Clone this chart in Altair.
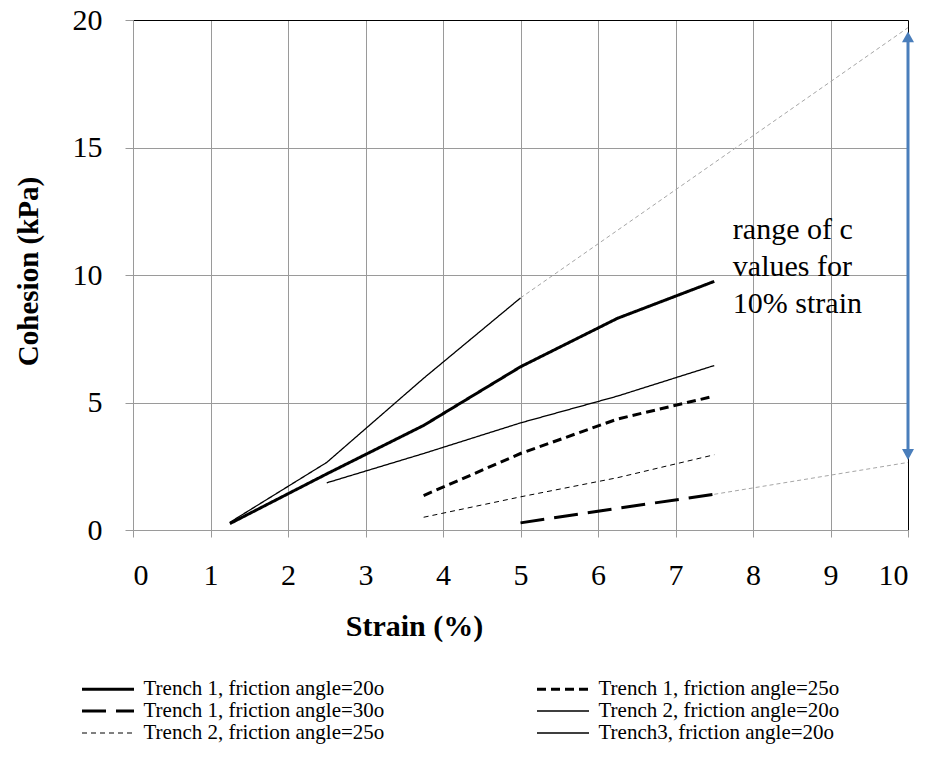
import altair as alt
import pandas as pd

# ---------------- data ----------------
series_names = [
    "Trench 1, friction angle=20o",
    "Trench 1, friction angle=25o",
    "Trench 1, friction angle=30o",
    "Trench 2, friction angle=20o",
    "Trench 2, friction angle=25o",
    "Trench3, friction angle=20o",
]

strain_t1_20 = [1.25, 2.5, 3.75, 5, 6.25, 7.5]
coh_t1_20 = [0.25, 2.2, 4.1, 6.4, 8.3, 9.75]

strain_t1_25 = [3.75, 5, 6.25, 7.5]
coh_t1_25 = [1.35, 3.0, 4.35, 5.25]

strain_t1_30 = [5, 6.25, 7.5]
coh_t1_30 = [0.28, 0.85, 1.4]

strain_t2_20 = [2.5, 3.75, 5, 6.25, 7.5]
coh_t2_20 = [1.85, 3.0, 4.2, 5.25, 6.45]

strain_t2_25 = [3.75, 5, 6.25, 7.5]
coh_t2_25 = [0.5, 1.3, 2.05, 2.95]

strain_t3_20 = [1.25, 2.5, 3.75, 5]
coh_t3_20 = [0.3, 2.65, 5.95, 9.1]

# grey extrapolations to 10 % strain
ext_upper_strain = [5, 10]
ext_upper_coh = [9.1, 19.7]
ext_lower_strain = [7.5, 10]
ext_lower_coh = [1.4, 2.65]

# range arrow at 10 % strain
arrow_strain = 10
arrow_top = 19.55
arrow_bottom = 2.75

annotation_lines = ["range of c", "values for", "10% strain"]
annotation_strain = 7.74
annotation_coh = 11.4

x_ticks = list(range(0, 11))
y_ticks = [0, 5, 10, 15, 20]

# ---------------- build tables ----------------
rows = []
for name, xs, ys in [
    (series_names[0], strain_t1_20, coh_t1_20),
    (series_names[1], strain_t1_25, coh_t1_25),
    (series_names[2], strain_t1_30, coh_t1_30),
    (series_names[3], strain_t2_20, coh_t2_20),
    (series_names[4], strain_t2_25, coh_t2_25),
    (series_names[5], strain_t3_20, coh_t3_20),
]:
    for i, (xv, yv) in enumerate(zip(xs, ys)):
        rows.append({"series": name, "strain": xv, "coh": yv, "order": i})
df = pd.DataFrame(rows)

ext_rows = []
for k, (xs, ys) in enumerate([(ext_upper_strain, ext_upper_coh), (ext_lower_strain, ext_lower_coh)]):
    for i, (xv, yv) in enumerate(zip(xs, ys)):
        ext_rows.append({"grp": k, "strain": xv, "coh": yv, "order": i})
ext_df = pd.DataFrame(ext_rows)

arrow_df = pd.DataFrame([{"strain": arrow_strain, "lo": arrow_bottom, "hi": arrow_top}])
ann_df = pd.DataFrame([{"strain": annotation_strain, "coh": annotation_coh,
                        "label": "\n".join(annotation_lines)}])

SERIF = "Liberation Serif"
GRID = "#9a9a9a"
BLUE = "#4a7ebb"

x_scale = alt.Scale(domain=[0, 10], nice=False, zero=False)
y_scale = alt.Scale(domain=[0, 20], nice=False)

x_axis = alt.Axis(
    values=x_ticks, format="d", title="Strain (%)", grid=True,
    gridColor={"condition": {"test": "datum.value == 10", "value": "black"}, "value": GRID},
    domainColor=GRID, tickColor=GRID, tickSize=7, labelPadding=23,
    labelFont=SERIF, labelFontSize=30, labelColor="black",
    titleFont=SERIF, titleFontSize=30, titleFontWeight="bold", titleColor="black",
    titleX=281, titleY=105, titleBaseline="alphabetic",
)
y_axis = alt.Axis(
    values=y_ticks, format="d", title="Cohesion (kPa)", grid=True,
    gridColor={"condition": {"test": "datum.value == 20", "value": "black"}, "value": GRID},
    domainColor=GRID, tickColor=GRID, tickSize=8, labelPadding=23,
    labelFont=SERIF, labelFontSize=30, labelColor="black",
    titleFont=SERIF, titleFontSize=29, titleFontWeight="bold", titleColor="black",
    titleX=-105, titleY=251, titleBaseline="middle", titleAngle=270,
)

# wide, flat legend symbol (52 px long) so rows stay tight
legend = alt.Legend(
    title=None, orient="none", legendX=-51, legendY=658.5, columns=2, direction="horizontal",
    symbolType="M-5.2,0H5.2", symbolSize=100, symbolStrokeColor="black",
    symbolOffset=15.5, labelOffset=25,
    labelFont=SERIF, labelFontSize=21, labelColor="black", labelBaseline="middle",
    labelLimit=400, columnPadding=146, rowPadding=0,
)

base_lines = alt.Chart(df).mark_line(color="black").encode(
    x=alt.X("strain:Q", scale=x_scale, axis=x_axis),
    y=alt.Y("coh:Q", scale=y_scale, axis=y_axis),
    order="order:Q",
    detail="series:N",
    strokeDash=alt.StrokeDash(
        "series:N",
        scale=alt.Scale(domain=series_names,
                        range=[[1, 0], [9, 5], [24, 10], [1, 0], [5, 4], [1, 0]]),
        legend=legend,
    ),
    strokeWidth=alt.StrokeWidth(
        "series:N",
        scale=alt.Scale(type="ordinal", domain=series_names, range=[3, 3, 3, 1.3, 1, 1.3]),
        legend=legend,
    ),
)

ext_lines = alt.Chart(ext_df).mark_line(color="#a6a6a6", strokeWidth=1, strokeDash=[4, 3]).encode(
    x=alt.X("strain:Q", scale=x_scale),
    y=alt.Y("coh:Q", scale=y_scale),
    detail="grp:N",
    order="order:Q",
)

arrow_rule = alt.Chart(arrow_df).mark_rule(color=BLUE, strokeWidth=3, yOffset=-8, y2Offset=8).encode(
    x=alt.X("strain:Q", scale=x_scale),
    y=alt.Y("lo:Q", scale=y_scale),
    y2="hi:Q",
)
arrow_up = alt.Chart(arrow_df).mark_point(
    shape="M0,-0.9L1,0.9L-1,0.9Z", filled=True, color=BLUE, size=144, opacity=1, yOffset=5.4
).encode(
    x=alt.X("strain:Q", scale=x_scale),
    y=alt.Y("hi:Q", scale=y_scale),
)
arrow_down = alt.Chart(arrow_df).mark_point(
    shape="M0,0.9L1,-0.9L-1,-0.9Z", filled=True, color=BLUE, size=144, opacity=1, yOffset=-5.4
).encode(
    x=alt.X("strain:Q", scale=x_scale),
    y=alt.Y("lo:Q", scale=y_scale),
)

annotation = alt.Chart(ann_df).mark_text(
    font=SERIF, fontSize=30, color="black", align="left", baseline="alphabetic",
    lineBreak="\n", lineHeight=37,
).encode(
    x=alt.X("strain:Q", scale=x_scale),
    y=alt.Y("coh:Q", scale=y_scale),
    text="label:N",
)

chart = alt.layer(ext_lines, base_lines, arrow_rule, arrow_up, arrow_down, annotation).properties(
    width=775, height=510,
    autosize=alt.AutoSizeParams(type="none"),
    padding={"left": 133, "top": 20, "right": 17, "bottom": 227},
    background="white",
).configure_view(strokeWidth=0)

chart.save("out.html", embed_options={"renderer": "svg", "actions": False})
